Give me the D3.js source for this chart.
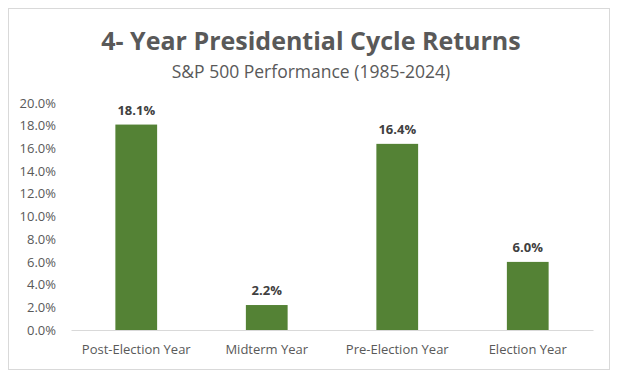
<!DOCTYPE html>
<html>
<head>
<meta charset="utf-8">
<script src="https://cdn.jsdelivr.net/npm/d3@7"></script>
<style>
  body { margin: 0; background: #fff; }
  text { font-family: "Open Sans", "Noto Sans", sans-serif; }
</style>
</head>
<body>
<div id="chart"></div>
<script>
const categories = ["Post-Election Year", "Midterm Year", "Pre-Election Year", "Election Year"];
const returns = [18.1, 2.2, 16.4, 6.0];
const yTicks = [0, 2, 4, 6, 8, 10, 12, 14, 16, 18, 20];

const W = 620, H = 378;
const margin = { top: 103, right: 27, bottom: 48, left: 71 };
const width = W - margin.left - margin.right;
const height = H - margin.top - margin.bottom;

const svg = d3.select("#chart").append("svg")
  .attr("width", W)
  .attr("height", H);

// outer frame
svg.append("rect")
  .attr("x", 8.5).attr("y", 8.5)
  .attr("width", 601).attr("height", 361)
  .attr("fill", "#fff")
  .attr("stroke", "#d9d9d9");

svg.append("text")
  .attr("x", 311).attr("y", 50)
  .attr("text-anchor", "middle")
  .attr("font-size", 25)
  .attr("font-weight", "bold")
  .attr("fill", "#595959")
  .text("4- Year Presidential Cycle Returns");

svg.append("text")
  .attr("x", 311).attr("y", 78)
  .attr("text-anchor", "middle")
  .attr("font-size", 17.5)
  .attr("fill", "#595959")
  .text("S&P 500 Performance (1985-2024)");

const g = svg.append("g")
  .attr("transform", "translate(" + margin.left + "," + margin.top + ")");

const x = d3.scaleBand()
  .domain(categories)
  .range([0, width])
  .paddingInner(0.68)
  .paddingOuter(0.34);

const y = d3.scaleLinear()
  .domain([0, 20])
  .range([height, 0]);

// y axis labels
const yAxis = g.append("g")
  .call(d3.axisLeft(y).tickValues(yTicks).tickSize(0).tickPadding(15)
    .tickFormat(d => d.toFixed(1) + "%"));
yAxis.select(".domain").remove();
yAxis.selectAll("text")
  .attr("font-size", 13)
  .attr("fill", "#595959")
  .style("font-family", "Open Sans, sans-serif");

// bars
g.selectAll(".bar")
  .data(returns)
  .enter()
  .append("rect")
  .attr("class", "bar")
  .attr("x", (d, i) => x(categories[i]))
  .attr("y", d => y(d))
  .attr("width", x.bandwidth())
  .attr("height", d => height - y(d))
  .attr("fill", "#548235");

// value labels
g.selectAll(".val")
  .data(returns)
  .enter()
  .append("text")
  .attr("class", "val")
  .attr("x", (d, i) => x(categories[i]) + x.bandwidth() / 2)
  .attr("y", d => y(d) - 10)
  .attr("text-anchor", "middle")
  .attr("font-size", 13)
  .attr("font-weight", "bold")
  .attr("fill", "#404040")
  .text(d => d.toFixed(1) + "%");

// x axis
const xAxis = g.append("g")
  .attr("transform", "translate(0," + height + ")")
  .call(d3.axisBottom(x).tickSize(0).tickPadding(15));
xAxis.select(".domain").attr("stroke", "#d9d9d9");
xAxis.selectAll("text")
  .attr("font-size", 13)
  .attr("fill", "#595959")
  .style("font-family", "Open Sans, sans-serif");
</script>
</body>
</html>
